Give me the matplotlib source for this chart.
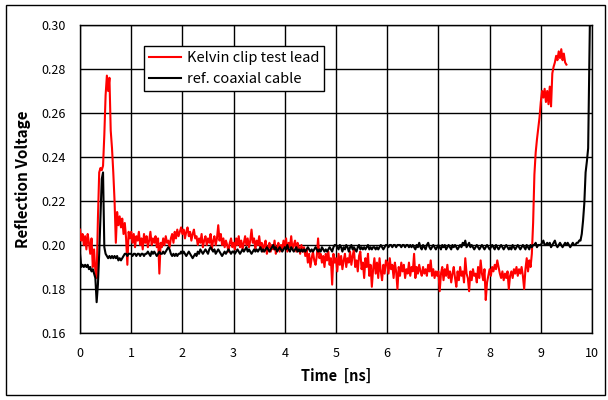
import numpy as np
import matplotlib
matplotlib.use("Agg")
import matplotlib.pyplot as plt
from matplotlib.patches import Rectangle

plt.rcParams['font.family'] = ['Noto Sans CJK KR', 'DejaVu Sans']

# ---- 数据 (读图估计, 单位 mV, 采样间隔 0.025 ns) ----
DT = 0.025
red_mv = [
    # 0 ns
    207, 202, 205, 200, 204, 198, 205, 201, 196, 203, 190, 198, 188, 185, 212, 233, 235, 234, 236, 250,
    268, 277, 270, 276, 252, 244, 233, 220, 201, 215, 209, 213, 208, 212, 205, 210, 203, 191, 206, 203,
    # 1 ns
    206, 201, 205, 199, 204, 202, 206, 200, 203, 198, 205, 201, 204, 199, 202, 206, 200, 203, 201, 204,
    199, 203, 187, 201, 199, 203, 200, 204, 201, 202, 199, 203, 205, 201, 206, 203, 207, 204, 206, 208,
    # 2 ns
    205, 207, 203, 206, 208, 204, 206, 202, 205, 207, 203, 204, 200, 203, 201, 205, 199, 202, 204, 200,
    203, 201, 205, 198, 202, 204, 200, 203, 209, 202, 205, 200, 203, 199, 202, 200, 197, 201, 203, 199,
    # 3 ns
    201, 198, 203, 200, 204, 199, 202, 198, 201, 204, 200, 203, 199, 202, 207, 201, 203, 198, 202, 200,
    204, 199, 201, 197, 200, 202, 196, 199, 201, 197, 200, 198, 202, 196, 199, 201, 197, 200, 198, 202,
    # 4 ns
    199, 203, 197, 201, 199, 204, 198, 200, 202, 197, 201, 199, 196, 200, 197, 199, 195, 198, 192, 196,
    190, 194, 197, 193, 191, 195, 203, 194, 196, 192, 195, 190, 196, 193, 197, 191, 194, 182, 196, 192,
    # 5 ns
    194, 188, 196, 191, 195, 189, 193, 196, 190, 194, 192, 197, 191, 195, 198, 190, 193, 188, 195, 197,
    189, 192, 185, 194, 190, 196, 186, 191, 181, 189, 194, 187, 192, 185, 194, 188, 184, 191, 187, 193,
    # 6 ns
    192, 187, 194, 189, 191, 185, 192, 188, 180, 190, 186, 192, 188, 191, 185, 189, 187, 192, 186, 190,
    188, 196, 185, 190, 187, 191, 188, 186, 190, 187, 189, 186, 191, 188, 193, 186, 189, 185, 188, 186,
    # 7 ns
    188, 179, 187, 190, 184, 189, 186, 191, 185, 188, 183, 187, 190, 185, 181, 188, 184, 190, 186, 188,
    183, 194, 187, 185, 179, 188, 184, 189, 186, 187, 183, 190, 185, 193, 187, 184, 189, 175, 183, 186,
    # 8 ns
    189, 186, 190, 188, 191, 189, 193, 190, 187, 185, 188, 184, 187, 185, 188, 180, 186, 188, 185, 189,
    187, 190, 186, 189, 187, 190, 186, 180, 189, 194, 188, 193, 190, 196, 210, 232, 242, 248, 253, 258,
    # 9 ns
    265, 270, 267, 271, 265, 270, 264, 272, 263, 278, 281, 283, 286, 284, 288, 285, 289, 284, 287, 283,
    282,
]
black_mv = [
    # 0 ns
    196, 190, 191, 190, 191, 190, 191, 189, 190, 188, 189, 187, 185, 174, 182, 196, 213, 230, 233, 199,
    196, 195, 194, 195, 194, 195, 194, 195, 194, 195, 193, 194, 193, 194, 195, 196, 196, 195, 196, 196,
    # 1 ns
    196, 195, 196, 196, 195, 196, 196, 195, 196, 196, 195, 196, 196, 197, 196, 195, 197, 196, 197, 196,
    195, 196, 197, 196, 196, 197, 196, 197, 198, 199, 198, 196, 195, 196, 195, 196, 195, 196, 196, 197,
    # 2 ns
    196, 197, 196, 195, 196, 197, 196, 195, 194, 195, 196, 195, 197, 196, 198, 197, 196, 197, 198, 197,
    196, 198, 199, 198, 197, 198, 196, 197, 198, 197, 196, 195, 196, 197, 196, 197, 198, 197, 196, 197,
    # 3 ns
    197, 196, 197, 198, 197, 196, 197, 198, 197, 198, 199, 197, 198, 197, 196, 197, 198, 197, 198, 197,
    198, 199, 197, 198, 197, 198, 199, 198, 197, 198, 199, 200, 198, 199, 197, 198, 199, 198, 197, 198,
    # 4 ns
    199, 198, 200, 198, 197, 199, 198, 197, 198, 199, 197, 198, 197, 198, 197, 198, 197, 198, 199, 198,
    197, 198, 197, 198, 199, 198, 197, 198, 197, 199, 198, 197, 198, 197, 198, 199, 198, 197, 199, 200,
    # 5 ns
    200, 199, 198, 200, 199, 197, 199, 198, 200, 199, 197, 199, 200, 198, 199, 198, 197, 199, 200, 198,
    199, 198, 199, 198, 199, 200, 198, 199, 198, 199, 199, 198, 199, 198, 199, 200, 199, 198, 199, 200,
    # 6 ns
    200, 199, 200, 200, 199, 200, 200, 199, 200, 200, 200, 199, 200, 200, 199, 200, 200, 199, 200, 199,
    200, 199, 198, 200, 199, 201, 199, 198, 200, 199, 198, 200, 201, 199, 198, 199, 200, 199, 198, 199,
    # 7 ns
    200, 199, 198, 200, 199, 200, 198, 199, 200, 199, 198, 200, 199, 200, 199, 198, 199, 200, 199, 201,
    200, 202, 199, 200, 201, 199, 200, 199, 198, 199, 200, 199, 198, 199, 200, 199, 198, 199, 200, 199,
    # 8 ns
    198, 199, 200, 199, 198, 200, 199, 198, 199, 200, 199, 198, 199, 200, 199, 198, 199, 198, 200, 199,
    198, 199, 200, 199, 198, 199, 200, 199, 198, 200, 199, 198, 200, 199, 200, 200, 201, 199, 200, 200,
    # 9 ns
    200, 201, 202, 200, 200, 201, 200, 201, 199, 200, 201, 202, 200, 199, 200, 201, 200, 199, 200, 201,
    200, 201, 200, 199, 200, 201, 200, 200, 201, 201, 202, 202, 205, 211, 219, 233, 238, 244, 285, 330,
    330,
]
red_label = "Kelvin clip test lead"
black_label = "ref. coaxial cable"

t_red = np.arange(len(red_mv)) * DT
t_black = np.arange(len(black_mv)) * DT
v_red = np.array(red_mv) / 1000.0
v_black = np.array(black_mv) / 1000.0

# ---- 出图 ----
fig = plt.figure(figsize=(6.08, 4.0), dpi=100)
ax = fig.add_axes([80 / 608, 67 / 400, 512 / 608, 308 / 400])

ax.plot(t_red, v_red, color="#ff0000", lw=1.5, label=red_label, zorder=3)
ax.plot(t_black, v_black, color="black", lw=1.5, label=black_label, zorder=3)

ax.set_xlim(0, 10)
ax.set_ylim(0.16, 0.30)
ax.set_xticks(range(0, 11))
ax.set_yticks(np.arange(0.16, 0.301, 0.02))
ax.set_yticklabels([f"{y:.2f}" for y in np.arange(0.16, 0.301, 0.02)])
ax.grid(True, color="black", lw=1.0)
ax.set_axisbelow(True)
ax.tick_params(length=0, labelsize=9, pad=10)
for s in ax.spines.values():
    s.set_linewidth(1.0)

ax.set_xlabel("Time  [ns]", fontsize=10.5, fontweight="bold", labelpad=6)
ax.set_ylabel("Reflection Voltage", fontsize=11, fontweight="bold", labelpad=8)

leg = ax.legend(loc="upper left", bbox_to_anchor=(0.11, 0.955), fontsize=10.5,
                frameon=True, fancybox=False, edgecolor="black", framealpha=1,
                handlelength=2.2, borderpad=0.35, labelspacing=0.45, handletextpad=0.4)
leg.get_frame().set_linewidth(1.0)

# 外框
fig.patches.append(Rectangle((5.5 / 608, 5 / 400), 599 / 608, 390 / 400, transform=fig.transFigure,
                             fill=False, edgecolor="black", lw=1.0))

plt.savefig("out.png", dpi=100)
